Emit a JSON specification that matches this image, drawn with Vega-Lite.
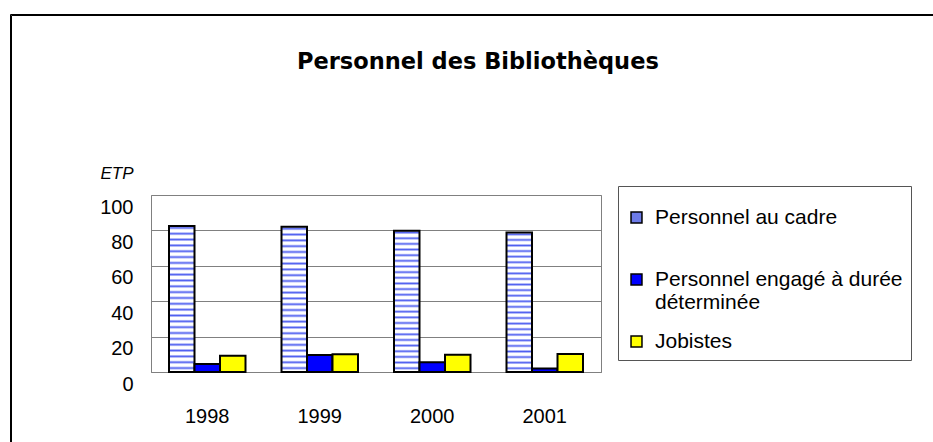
{
  "$schema": "https://vega.github.io/schema/vega-lite/v6.json",
  "width": 450,
  "height": 177,
  "autosize": {"type": "none"},
  "padding": {"left": 151, "top": 195, "right": 332, "bottom": 70},
  "background": "white",
  "title": {
    "text": "Personnel des Bibliothèques",
    "anchor": "start",
    "frame": "group",
    "dx": 146,
    "offset": -78,
    "baseline": "alphabetic",
    "font": "DejaVu Sans",
    "fontSize": 22.5,
    "fontWeight": "bold",
    "color": "black"
  },
  "data": {
    "values": [
      {"annee": "1998", "serie": "Personnel au cadre", "etp": 82.5},
      {"annee": "1998", "serie": "Personnel engagé à durée déterminée", "etp": 4.5},
      {"annee": "1998", "serie": "Jobistes", "etp": 9.2},
      {"annee": "1999", "serie": "Personnel au cadre", "etp": 82},
      {"annee": "1999", "serie": "Personnel engagé à durée déterminée", "etp": 9.6},
      {"annee": "1999", "serie": "Jobistes", "etp": 10},
      {"annee": "2000", "serie": "Personnel au cadre", "etp": 79.8},
      {"annee": "2000", "serie": "Personnel engagé à durée déterminée", "etp": 5.5},
      {"annee": "2000", "serie": "Jobistes", "etp": 9.8},
      {"annee": "2001", "serie": "Personnel au cadre", "etp": 78.8},
      {"annee": "2001", "serie": "Personnel engagé à durée déterminée", "etp": 2},
      {"annee": "2001", "serie": "Jobistes", "etp": 10.2}
    ]
  },
  "mark": {"type": "bar", "stroke": "black", "strokeWidth": 2},
  "encoding": {
    "x": {
      "field": "annee",
      "type": "nominal",
      "scale": {"paddingInner": 0.32, "paddingOuter": 0.16},
      "axis": {
        "title": null,
        "labelAngle": 0,
        "ticks": false,
        "tickSize": 0,
        "labelPadding": 34,
        "labelBaseline": "top",
        "labelFont": "Liberation Sans",
        "labelFontSize": 20,
        "labelColor": "black",
        "domainColor": "#808080",
        "grid": false
      }
    },
    "xOffset": {
      "field": "serie",
      "type": "nominal",
      "sort": ["Personnel au cadre", "Personnel engagé à durée déterminée", "Jobistes"],
      "scale": {"paddingInner": 0, "paddingOuter": 0}
    },
    "y": {
      "field": "etp",
      "type": "quantitative",
      "scale": {"domain": [0, 100], "nice": false},
      "axis": {
        "values": [0, 20, 40, 60, 80, 100],
        "title": "ETP",
        "titleAngle": 0,
        "titleAlign": "left",
        "titleBaseline": "alphabetic",
        "titleX": -51,
        "titleY": -17,
        "titleFont": "Liberation Sans",
        "titleFontSize": 17,
        "titleFontStyle": "italic",
        "titleFontWeight": "normal",
        "titleColor": "black",
        "domain": false,
        "ticks": false,
        "tickSize": 0,
        "labelPadding": 18,
        "labelOffset": 12,
        "labelBaseline": "middle",
        "labelFont": "Liberation Sans",
        "labelFontSize": 20,
        "labelColor": "black",
        "grid": true,
        "gridColor": "#808080",
        "gridOpacity": 1
      }
    },
    "strokeDash": {
      "datum": "cadre",
      "type": "nominal",
      "scale": {"range": [[1, 0]]},
      "legend": {
        "title": null,
        "orient": "none",
        "legendX": -141,
        "legendY": -181,
        "strokeColor": "black",
        "padding": 480,
        "symbolOpacity": 0,
        "labelOpacity": 0,
        "labelExpr": "''"
      }
    },
    "opacity": {
      "datum": "bordure",
      "type": "nominal",
      "scale": {"range": [1, 1]},
      "legend": {
        "title": null,
        "orient": "none",
        "legendX": -140,
        "legendY": -180,
        "strokeColor": "black",
        "padding": 480,
        "symbolOpacity": 0,
        "labelOpacity": 0,
        "labelExpr": "''"
      }
    },
    "fill": {
      "condition": {
        "test": "datum.serie === 'Personnel au cadre'",
        "value": {
          "gradient": "linear", "x1": 0, "y1": 0, "x2": 0, "y2": 1,
          "stops": [
            {"offset": 0, "color": "white"}, {"offset": 0.013, "color": "#4f5ff0"}, {"offset": 0.026, "color": "white"},
            {"offset": 0.04, "color": "white"}, {"offset": 0.053, "color": "#4f5ff0"}, {"offset": 0.066, "color": "white"},
            {"offset": 0.08, "color": "white"}, {"offset": 0.093, "color": "#4f5ff0"}, {"offset": 0.106, "color": "white"},
            {"offset": 0.12, "color": "white"}, {"offset": 0.133, "color": "#4f5ff0"}, {"offset": 0.146, "color": "white"},
            {"offset": 0.16, "color": "white"}, {"offset": 0.173, "color": "#4f5ff0"}, {"offset": 0.186, "color": "white"},
            {"offset": 0.2, "color": "white"}, {"offset": 0.213, "color": "#4f5ff0"}, {"offset": 0.226, "color": "white"},
            {"offset": 0.24, "color": "white"}, {"offset": 0.253, "color": "#4f5ff0"}, {"offset": 0.266, "color": "white"},
            {"offset": 0.28, "color": "white"}, {"offset": 0.293, "color": "#4f5ff0"}, {"offset": 0.306, "color": "white"},
            {"offset": 0.32, "color": "white"}, {"offset": 0.333, "color": "#4f5ff0"}, {"offset": 0.346, "color": "white"},
            {"offset": 0.36, "color": "white"}, {"offset": 0.373, "color": "#4f5ff0"}, {"offset": 0.386, "color": "white"},
            {"offset": 0.4, "color": "white"}, {"offset": 0.413, "color": "#4f5ff0"}, {"offset": 0.426, "color": "white"},
            {"offset": 0.44, "color": "white"}, {"offset": 0.453, "color": "#4f5ff0"}, {"offset": 0.466, "color": "white"},
            {"offset": 0.48, "color": "white"}, {"offset": 0.493, "color": "#4f5ff0"}, {"offset": 0.506, "color": "white"},
            {"offset": 0.52, "color": "white"}, {"offset": 0.533, "color": "#4f5ff0"}, {"offset": 0.546, "color": "white"},
            {"offset": 0.56, "color": "white"}, {"offset": 0.573, "color": "#4f5ff0"}, {"offset": 0.586, "color": "white"},
            {"offset": 0.6, "color": "white"}, {"offset": 0.613, "color": "#4f5ff0"}, {"offset": 0.626, "color": "white"},
            {"offset": 0.64, "color": "white"}, {"offset": 0.653, "color": "#4f5ff0"}, {"offset": 0.666, "color": "white"},
            {"offset": 0.68, "color": "white"}, {"offset": 0.693, "color": "#4f5ff0"}, {"offset": 0.706, "color": "white"},
            {"offset": 0.72, "color": "white"}, {"offset": 0.733, "color": "#4f5ff0"}, {"offset": 0.746, "color": "white"},
            {"offset": 0.76, "color": "white"}, {"offset": 0.773, "color": "#4f5ff0"}, {"offset": 0.786, "color": "white"},
            {"offset": 0.8, "color": "white"}, {"offset": 0.813, "color": "#4f5ff0"}, {"offset": 0.826, "color": "white"},
            {"offset": 0.84, "color": "white"}, {"offset": 0.853, "color": "#4f5ff0"}, {"offset": 0.866, "color": "white"},
            {"offset": 0.88, "color": "white"}, {"offset": 0.893, "color": "#4f5ff0"}, {"offset": 0.906, "color": "white"},
            {"offset": 0.92, "color": "white"}, {"offset": 0.933, "color": "#4f5ff0"}, {"offset": 0.946, "color": "white"},
            {"offset": 0.96, "color": "white"}, {"offset": 0.973, "color": "#4f5ff0"}, {"offset": 0.986, "color": "white"},
            {"offset": 1, "color": "white"}
          ]
        }
      },
      "field": "serie",
      "type": "nominal",
      "scale": {
        "domain": ["Personnel au cadre", "Personnel engagé à durée déterminée", "Jobistes"],
        "range": ["#6d7be8", "#0000ff", "#ffff00"]
      },
      "legend": {
        "title": " ",
        "titleFontSize": 8,
        "titlePadding": 5,
        "orient": "none",
        "legendX": 467,
        "legendY": -9,
        "direction": "vertical",
        "strokeColor": "#555555",
        "fillColor": "white",
        "padding": 8,
        "symbolType": "square",
        "symbolSize": 120,
        "symbolStrokeColor": "black",
        "symbolStrokeWidth": 1.5,
        "symbolOpacity": 1,
        "labelFont": "Liberation Sans",
        "labelFontSize": 21,
        "labelColor": "black",
        "labelLimit": 400,
        "labelOffset": 8,
        "rowPadding": 17,
        "labelExpr": "datum.label == 'Personnel engagé à durée déterminée' ? ['Personnel engagé à durée', 'déterminée'] : datum.label == 'Personnel au cadre' ? ['Personnel au cadre', ''] : datum.label"
      }
    }
  },
  "config": {
    "view": {"stroke": "#808080", "strokeWidth": 1}
  }
}
